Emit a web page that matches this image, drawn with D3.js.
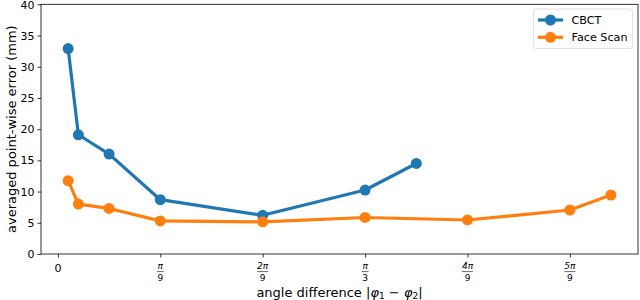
<!DOCTYPE html>
<html><head><meta charset="utf-8">
<script src="https://cdn.jsdelivr.net/npm/d3@7"></script>
<style>body{margin:0;background:#fff}svg{display:block;font-family:"DejaVu Sans",sans-serif}</style>
</head><body><svg id="c" width="640" height="300"></svg>
<script>
// angles in degrees
const cbctAngles = [2, 4, 10, 20, 40, 60, 70];
const cbctValues = [32.9, 19.1, 16.0, 8.7, 6.2, 10.25, 14.5];
const faceAngles = [2, 4, 10, 20, 40, 60, 80, 100, 108];
const faceValues = [11.75, 8.0, 7.3, 5.3, 5.15, 5.85, 5.45, 7.05, 9.45];
const seriesNames = ["CBCT", "Face Scan"];
const xTickNums = ["0", "π", "2π", "π", "4π", "5π"];
const xTickDens = ["", "9", "9", "3", "9", "9"];
const xTickValues = [0, Math.PI/9, 2*Math.PI/9, Math.PI/3, 4*Math.PI/9, 5*Math.PI/9];
const yTicks = [0, 5, 10, 15, 20, 25, 30, 35, 40];

const colors = ["#1f77b4", "#ff7f0e"];
const svg = d3.select("#c");
const L = 41, R = 638, T = 4.3, B = 254;
const rad = d => d * Math.PI / 180;
const xmin = rad(2), xmax = rad(108), span = xmax - xmin;
const x = d3.scaleLinear().domain([xmin - 0.05*span, xmax + 0.05*span]).range([L, R]);
const y = d3.scaleLinear().domain([0, 40]).range([B, T]);

// axes
const yAxis = svg.append("g").attr("transform", `translate(${L},0)`)
  .call(d3.axisLeft(y).tickValues(yTicks).tickSize(3.5).tickPadding(3));
yAxis.select(".domain").remove();
yAxis.selectAll("text").attr("font-size", 11).attr("fill", "#000").attr("font-family", "DejaVu Sans")
  .attr("dy", d => d === 40 ? "0.36em" : "0.32em");
yAxis.selectAll("line").attr("stroke", "#000").attr("stroke-width", 0.8);

const xAxis = svg.append("g").attr("transform", `translate(0,${B})`)
  .call(d3.axisBottom(x).tickValues(xTickValues).tickSize(3.5).tickFormat(""));
xAxis.select(".domain").remove();
xAxis.selectAll("line").attr("stroke", "#000").attr("stroke-width", 0.8);

xTickValues.forEach((v, i) => {
  const cx = x(v);
  if (!xTickDens[i]) {
    svg.append("text").attr("x", cx).attr("y", 272).attr("text-anchor", "middle")
      .attr("font-size", 11).text(xTickNums[i]);
  } else {
    svg.append("text").attr("x", cx).attr("y", 269.3).attr("text-anchor", "middle")
      .attr("font-size", 9).attr("font-style", "italic").text(xTickNums[i]);
    const w = xTickNums[i].length > 1 ? 11 : 7;
    svg.append("line").attr("x1", cx - w/2).attr("x2", cx + w/2).attr("y1", 271.6).attr("y2", 271.6)
      .attr("stroke", "#000").attr("stroke-width", 0.6);
    svg.append("text").attr("x", cx).attr("y", 280.5).attr("text-anchor", "middle")
      .attr("font-size", 9).text(xTickDens[i]);
  }
});

// frame
svg.append("rect").attr("x", L).attr("y", T).attr("width", R - L).attr("height", B - T)
  .attr("fill", "none").attr("stroke", "#000").attr("stroke-width", 0.8);

// labels
svg.append("text").attr("transform", `translate(15.5,${(T+B)/2}) rotate(-90)`)
  .attr("text-anchor", "middle").attr("font-size", 13).text("averaged point-wise error (mm)");
const xl = svg.append("text").attr("x", (L+R)/2).attr("y", 296.5).attr("text-anchor", "middle").attr("font-size", 13);
xl.append("tspan").text("angle difference |");
xl.append("tspan").attr("font-style", "italic").text("φ");
xl.append("tspan").attr("font-size", 9).attr("dy", 2.5).text("1");
xl.append("tspan").attr("dy", -2.5).text(" − ");
xl.append("tspan").attr("font-style", "italic").text("φ");
xl.append("tspan").attr("font-size", 9).attr("dy", 2.5).text("2");
xl.append("tspan").attr("dy", -2.5).text("|");

// series
const data = [
  cbctAngles.map((a, i) => [rad(a), cbctValues[i]]),
  faceAngles.map((a, i) => [rad(a), faceValues[i]])
];
const line = d3.line().x(d => x(d[0])).y(d => y(d[1]));
data.forEach((s, k) => {
  svg.append("path").attr("d", line(s)).attr("fill", "none").attr("stroke", colors[k])
    .attr("stroke-width", 3.2).attr("stroke-linejoin", "round").attr("stroke-linecap", "square");
  svg.selectAll(null).data(s).enter().append("circle")
    .attr("cx", d => x(d[0])).attr("cy", d => y(d[1])).attr("r", 5.5).attr("fill", colors[k]);
});

// legend
const lg = svg.append("g");
lg.append("rect").attr("x", 533.5).attr("y", 9).attr("width", 99).attr("height", 39.5).attr("rx", 2.5)
  .attr("fill", "#fff").attr("fill-opacity", 0.8).attr("stroke", "#d9d9d9").attr("stroke-width", 0.8);
seriesNames.forEach((n, k) => {
  const yy = 20 + k * 17.3;
  lg.append("line").attr("x1", 538).attr("x2", 563).attr("y1", yy).attr("y2", yy)
    .attr("stroke", colors[k]).attr("stroke-width", 3.2);
  lg.append("circle").attr("cx", 550.5).attr("cy", yy).attr("r", 5.5).attr("fill", colors[k]);
  lg.append("text").attr("x", 571.5).attr("y", yy + 4).attr("font-size", 11.2).text(n);
});
</script></body></html>
